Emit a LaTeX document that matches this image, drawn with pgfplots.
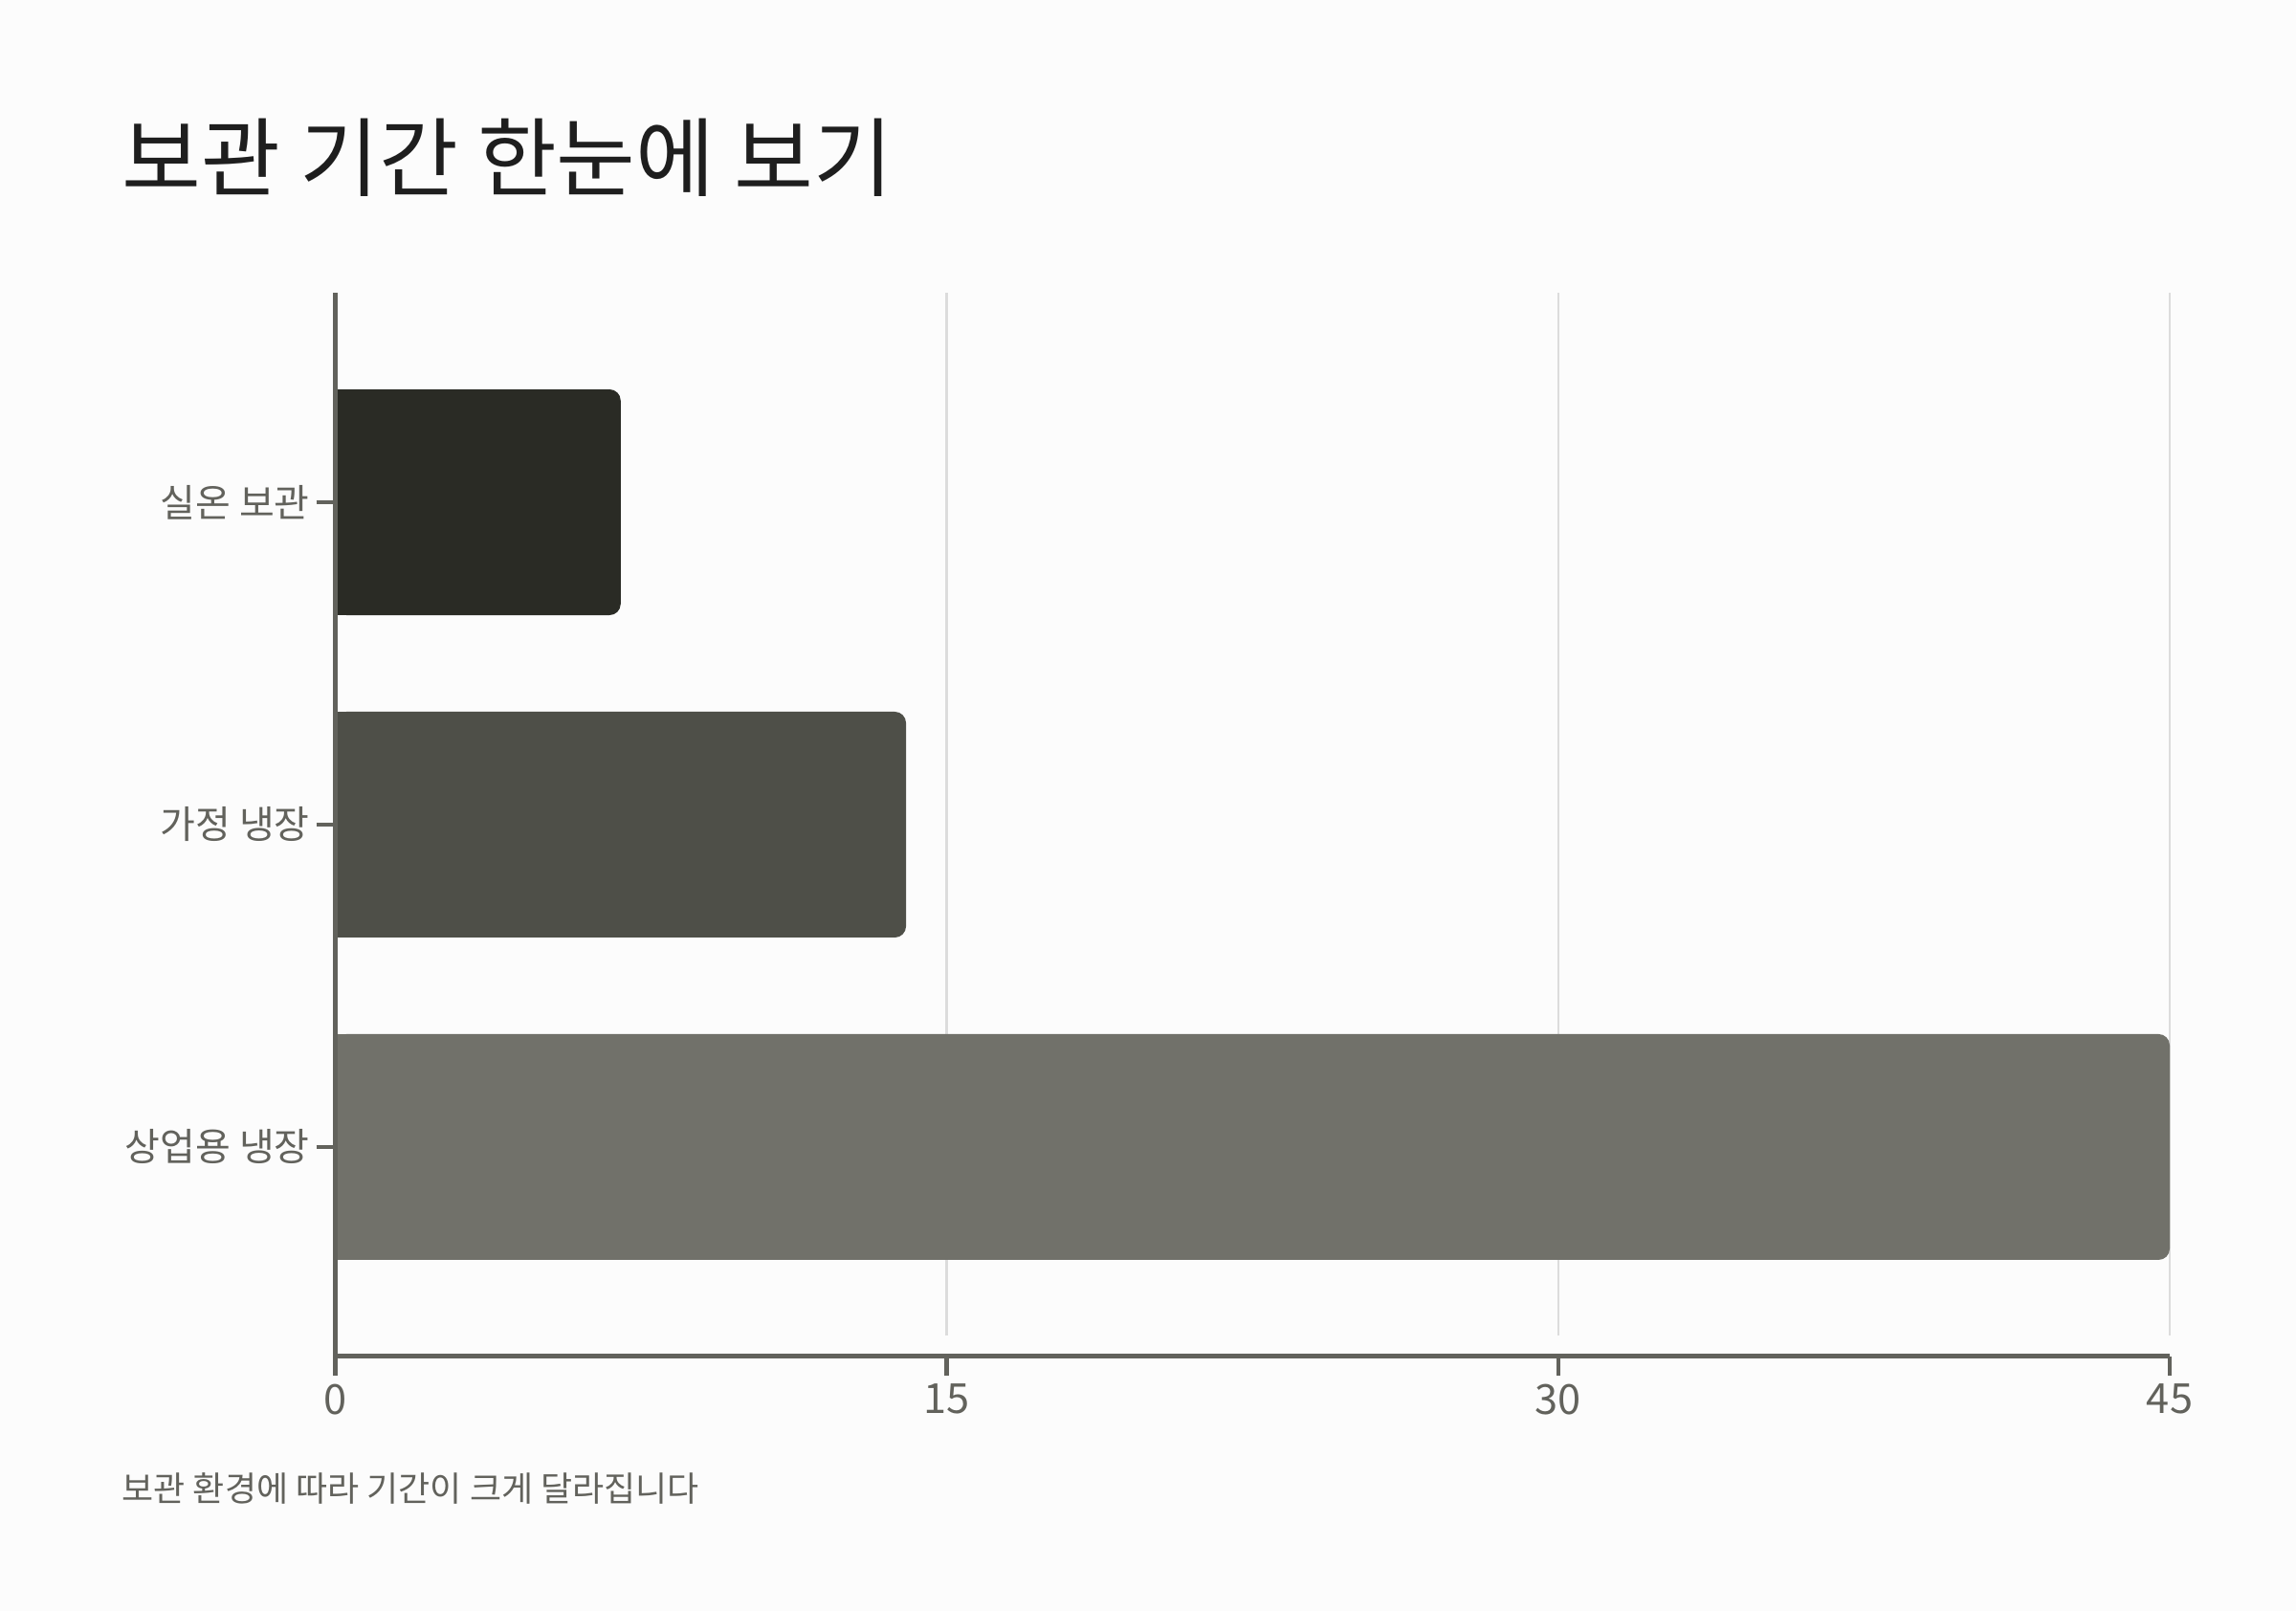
\documentclass[border=0pt]{standalone}
\usepackage{fontspec}
\setmainfont{Noto Sans CJK KR}
\usepackage{pgfplots}
\usepackage{pgfplotstable}
\pgfplotsset{compat=1.18}

\definecolor{bg}{HTML}{FCFCFC}
\definecolor{axc}{HTML}{62625C}
\definecolor{gridc}{HTML}{DCDCDC}
\definecolor{titlec}{HTML}{1E1E1E}
\definecolor{barA}{HTML}{2A2B25}
\definecolor{barB}{HTML}{4E4F48}
\definecolor{barC}{HTML}{71716A}

% pos = row on the y axis (0 = bottom), v = storage period
\pgfplotstableread{
pos v
2 7
1 14
0 45
}\storage

\begin{document}
\begin{tikzpicture}
\fill[bg] (0,0) rectangle (720pt,505.2pt);
\node[anchor=base west, inner sep=0pt, text=titlec, font=\fontsize{27}{31}\selectfont]
  at (38.1pt,445.5pt) {보관 기간 한눈에 보기};
\node[anchor=base west, inner sep=0pt, text=axc, font=\fontsize{10.8}{13}\selectfont]
  at (38.1pt,34.2pt) {보관 환경에 따라 기간이 크게 달라집니다};

\begin{axis}[
    at={(105.15pt,79.8pt)}, anchor=south west,
    scale only axis,
    width=575.25pt, height=333.6pt,
    xmin=0, xmax=45, ymin=-0.65, ymax=2.65,
    axis x line=bottom, axis y line=left,
    axis line style={-, axc, line width=1.5pt},
    axis on top,
    xtick={0,15,30,45},
    ytick={0,1,2},
    yticklabels={상업용 냉장, 가정 냉장, 실온 보관},
    tick align=outside,
    major tick length=6pt,
    tick style={axc, line width=1.4pt},
    /pgf/number format/assume math mode=true,
    xticklabel style={inner sep=0pt, yshift=-2.4pt, text=axc, font=\fontsize{13}{15}\selectfont},
    yticklabel style={inner sep=0pt, xshift=-1.8pt, text=axc, font=\fontsize{12}{14}\selectfont},
    clip=false,
]
  % light vertical grid lines, below the bars
  \draw[gridc, line width=0.8pt] (axis cs:15,-0.585) -- (axis cs:15,2.65);
  \draw[gridc, line width=0.8pt] (axis cs:30,-0.585) -- (axis cs:30,2.65);
  \draw[gridc, line width=0.8pt] (axis cs:45,-0.585) -- (axis cs:45,2.65);

  % rounded bars
  \addplot[xbar, bar shift=0pt, bar width=70.8pt, fill=barA, draw=none, rounded corners=3.5pt]
    table[x=v, y=pos, skip coords between index={1}{3}] {\storage};
  \addplot[xbar, bar shift=0pt, bar width=70.8pt, fill=barB, draw=none, rounded corners=3.5pt]
    table[x=v, y=pos, skip coords between index={0}{1}, skip coords between index={2}{3}] {\storage};
  \addplot[xbar, bar shift=0pt, bar width=70.8pt, fill=barC, draw=none, rounded corners=3.5pt]
    table[x=v, y=pos, skip coords between index={0}{2}] {\storage};
  % square left ends
  \addplot[xbar, bar shift=0pt, bar width=70.8pt, fill=barA, draw=none]
    table[x expr=\thisrow{v}/2, y=pos, skip coords between index={1}{3}] {\storage};
  \addplot[xbar, bar shift=0pt, bar width=70.8pt, fill=barB, draw=none]
    table[x expr=\thisrow{v}/2, y=pos, skip coords between index={0}{1}, skip coords between index={2}{3}] {\storage};
  \addplot[xbar, bar shift=0pt, bar width=70.8pt, fill=barC, draw=none]
    table[x expr=\thisrow{v}/2, y=pos, skip coords between index={0}{2}] {\storage};
\end{axis}
\end{tikzpicture}
\end{document}
